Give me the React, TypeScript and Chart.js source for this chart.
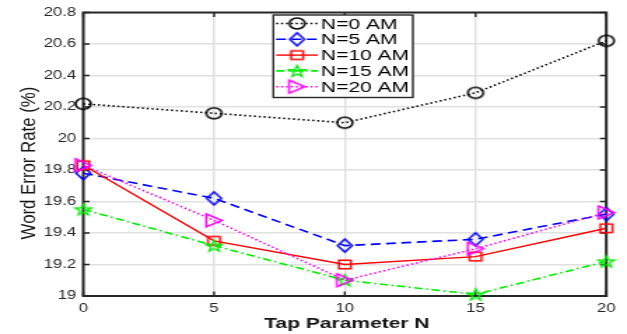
import React, { useEffect, useRef } from "react";
import { Chart, registerables } from "chart.js";

Chart.register(...registerables);

// ---- data ----
const tapN = [0, 5, 10, 15, 20];
const am0 = [20.22, 20.16, 20.1, 20.29, 20.62];
const am5 = [19.78, 19.62, 19.32, 19.36, 19.52];
const am10 = [19.83, 19.35, 19.2, 19.25, 19.43];
const am15 = [19.55, 19.32, 19.1, 19.01, 19.22];
const am20 = [19.83, 19.48, 19.1, 19.3, 19.53];
const seriesLabels = ["N=0 AM", "N=5 AM", "N=10 AM", "N=15 AM", "N=20 AM"];
const xTitle = "Tap Parameter N";
const yTitle = "Word Error Rate (%)";
const yMin = 19;
const yMax = 20.8;
const yStep = 0.2;
const xMin = 0;
const xMax = 20;
const xStep = 5;

// The original figure is stretched horizontally; draw at natural width and stretch.
const OUT_W = 627;
const OUT_H = 334;
const NAT_W = 448;
const STRETCH = OUT_W / NAT_W;

const FONT = "'Liberation Sans', Arial, Helvetica, sans-serif";
const AXIS_COLOR = "#262626";

type Shape = "circle" | "diamond" | "square" | "star" | "triangle";

function makeMarker(shape: Shape, color: string, w: number, h: number, lw: number) {
  const c = document.createElement("canvas");
  const pad = 3;
  c.width = Math.ceil(w + pad * 2);
  c.height = Math.ceil(h + pad * 2);
  const ctx = c.getContext("2d")!;
  const cx = c.width / 2;
  const cy = c.height / 2;
  ctx.strokeStyle = color;
  ctx.lineWidth = lw;
  ctx.lineJoin = "miter";
  ctx.beginPath();
  if (shape === "circle") {
    ctx.ellipse(cx, cy, w / 2, h / 2, 0, 0, Math.PI * 2);
  } else if (shape === "diamond") {
    ctx.moveTo(cx, cy - h / 2);
    ctx.lineTo(cx + w / 2, cy);
    ctx.lineTo(cx, cy + h / 2);
    ctx.lineTo(cx - w / 2, cy);
    ctx.closePath();
  } else if (shape === "square") {
    ctx.rect(cx - w / 2, cy - h / 2, w, h);
  } else if (shape === "triangle") {
    ctx.moveTo(cx - w / 2, cy - h / 2);
    ctx.lineTo(cx + w / 2, cy);
    ctx.lineTo(cx - w / 2, cy + h / 2);
    ctx.closePath();
  } else if (shape === "star") {
    const inner = 0.4;
    for (let i = 0; i < 10; i++) {
      const r = i % 2 === 0 ? 1 : inner;
      const a = -Math.PI / 2 + (i * Math.PI) / 5;
      const px = cx + Math.cos(a) * r * (w / 2);
      const py = cy + 0.6 + Math.sin(a) * r * (h / 2);
      if (i === 0) ctx.moveTo(px, py);
      else ctx.lineTo(px, py);
    }
    ctx.closePath();
  }
  ctx.stroke();
  return c;
}

export default function App() {
  const ref = useRef<HTMLCanvasElement>(null);

  useEffect(() => {
    const colors = ["#000000", "#0000ff", "#ff0000", "#00ee00", "#ff00ff"];
    const dashes = [[1.5, 2], [7, 4], [], [6, 2.5, 1.5, 2.5], [1.5, 2]];
    const markers = [
      makeMarker("circle", colors[0], 11, 11, 1.5),
      makeMarker("diamond", colors[1], 10.5, 13, 1.5),
      makeMarker("square", colors[2], 8.5, 8.5, 1.5),
      makeMarker("star", colors[3], 12, 12, 1.4),
      makeMarker("triangle", colors[4], 11.3, 13, 1.5),
    ];
    const series = [am0, am5, am10, am15, am20];

    const datasets = series.map((vals, i) => ({
      label: seriesLabels[i],
      data: vals.map((v, j) => ({ x: tapN[j], y: v })),
      borderColor: colors[i],
      backgroundColor: colors[i],
      borderWidth: i === 2 ? 1.4 : 1.6,
      borderDash: dashes[i],
      pointStyle: markers[i] as any,
      pointRadius: 7,
      pointHoverRadius: 7,
      fill: false,
      tension: 0,
      clip: false as any,
      order: 5 - i,
    }));

    const framePlugin = {
      id: "matlabFrame",
      beforeDatasetsDraw(chart: any) {
        const { ctx, chartArea: a, scales } = chart;
        ctx.save();
        ctx.strokeStyle = AXIS_COLOR;
        ctx.lineWidth = 1.4;
        const tl = 4.5;
        ctx.beginPath();
        scales.y.ticks.forEach((t: any) => {
          const py = scales.y.getPixelForValue(t.value);
          ctx.moveTo(a.left, py);
          ctx.lineTo(a.left + tl, py);
          ctx.moveTo(a.right, py);
          ctx.lineTo(a.right - tl, py);
        });
        scales.x.ticks.forEach((t: any) => {
          const px = scales.x.getPixelForValue(t.value);
          ctx.moveTo(px, a.bottom);
          ctx.lineTo(px, a.bottom - tl);
          ctx.moveTo(px, a.top);
          ctx.lineTo(px, a.top + tl);
        });
        ctx.stroke();
        ctx.lineWidth = 2;
        ctx.strokeRect(a.left, a.top, a.right - a.left, a.bottom - a.top);
        ctx.restore();
      },
      afterDraw(chart: any) {
        const { ctx, chartArea: a } = chart;
        ctx.save();
        // axis titles
        ctx.fillStyle = "#151515";
        ctx.textAlign = "center";
        ctx.textBaseline = "alphabetic";
        ctx.font = `bold 15px ${FONT}`;
        ctx.fillText(xTitle, (a.left + a.right) / 2 + 1.5, 328);
        ctx.font = `15px ${FONT}`;
        ctx.save();
        ctx.translate(24.5, 163);
        ctx.rotate(-Math.PI / 2);
        ctx.scale(1.12, 1);
        ctx.fillText(yTitle, 0, 0);
        ctx.restore();

        // legend
        const boxL = 195.3;
        const boxT = 15;
        const boxW = 99.7;
        const boxH = 82.5;
        ctx.fillStyle = "#ffffff";
        ctx.fillRect(boxL, boxT, boxW, boxH);
        ctx.strokeStyle = AXIS_COLOR;
        ctx.lineWidth = 1.4;
        ctx.strokeRect(boxL, boxT, boxW, boxH);
        const rowY0 = 23.5;
        const rowStep = 15.8;
        chart.data.datasets.forEach((ds: any, i: number) => {
          const y = rowY0 + i * rowStep;
          ctx.save();
          ctx.strokeStyle = ds.borderColor;
          ctx.lineWidth = ds.borderWidth;
          ctx.setLineDash(ds.borderDash || []);
          ctx.beginPath();
          ctx.moveTo(197.3, y);
          ctx.lineTo(227.1, y);
          ctx.stroke();
          ctx.restore();
          const img = ds.pointStyle as HTMLCanvasElement;
          ctx.drawImage(img, 212.2 - img.width / 2, y - img.height / 2);
          ctx.save();
          ctx.fillStyle = "#000000";
          ctx.font = `15px ${FONT}`;
          ctx.textAlign = "left";
          ctx.textBaseline = "middle";
          ctx.fillText(ds.label, 229.3, y + 1);
          ctx.restore();
        });
        ctx.restore();
      },
    };

    const chart = new Chart(ref.current!, {
      type: "line",
      data: { datasets: datasets as any },
      options: {
        responsive: false,
        devicePixelRatio: 1,
        animation: false,
        layout: { padding: { top: 12.5, right: 14.8, left: 0, bottom: 0 } },
        plugins: {
          legend: { display: false },
          tooltip: { enabled: false },
        },
        scales: {
          x: {
            type: "linear",
            min: xMin,
            max: xMax,
            ticks: {
              stepSize: xStep,
              padding: 5,
              color: AXIS_COLOR,
              font: { family: FONT, size: 12 },
              maxRotation: 0,
            },
            grid: { color: "#e0e0e0", lineWidth: 1.5, drawTicks: false },
            border: { display: false },
            afterFit: (s: any) => {
              s.height = 38;
            },
          },
          y: {
            type: "linear",
            min: yMin,
            max: yMax,
            ticks: {
              stepSize: yStep,
              padding: 5,
              color: AXIS_COLOR,
              font: { family: FONT, size: 12 },
              callback: (v: any) => String(Number(Number(v).toFixed(1))),
            },
            grid: { color: "#e0e0e0", lineWidth: 1.5, drawTicks: false },
            border: { display: false },
            afterFit: (s: any) => {
              s.width = 59.5;
            },
          },
        },
      },
      plugins: [framePlugin],
    });
    return () => chart.destroy();
  }, []);

  return (
    <div style={{ position: "absolute", left: 0, top: 0, width: OUT_W, height: OUT_H, overflow: "hidden", background: "#ffffff" }}>
      <div style={{ width: NAT_W, height: OUT_H, transform: `scaleX(${STRETCH})`, transformOrigin: "0 0" }}>
        <canvas ref={ref} width={NAT_W} height={OUT_H} style={{ display: "block", width: NAT_W, height: OUT_H }} />
      </div>
    </div>
  );
}
